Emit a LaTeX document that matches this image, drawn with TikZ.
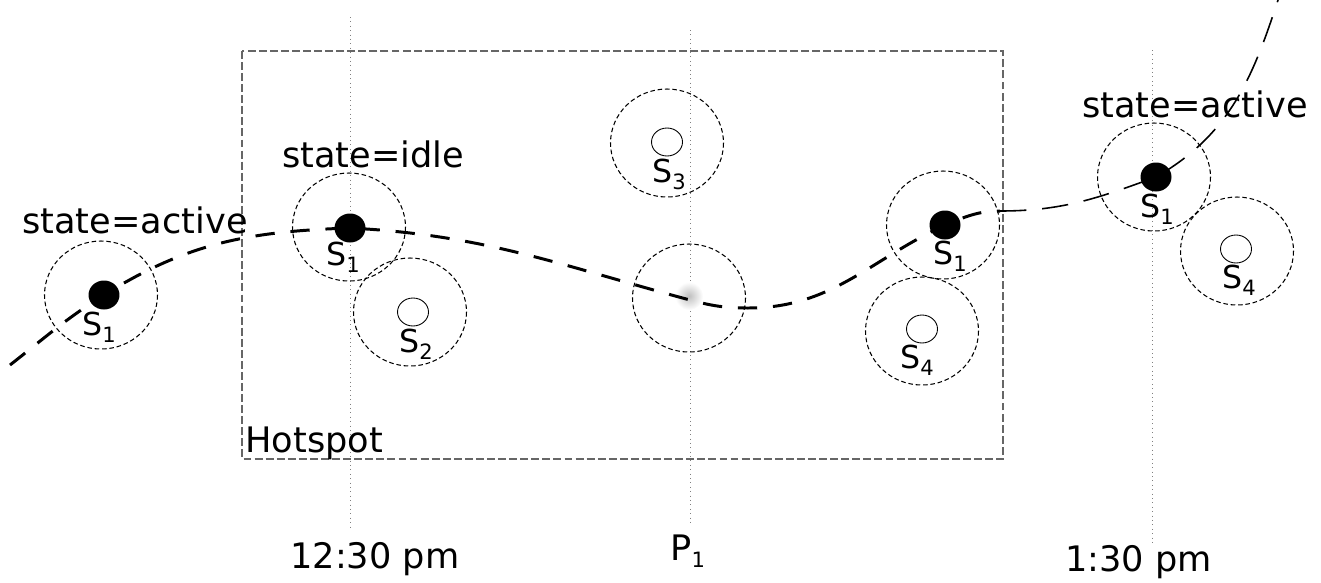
\documentclass[tikz,border=0pt]{standalone}
\usepackage{fontspec}
\setmainfont{DejaVu Sans}
\usetikzlibrary{shapes.geometric}
\newcommand{\subidx}[1]{\raisebox{-4pt}{\fontsize{12}{12}\selectfont #1}}

\begin{document}
\begin{tikzpicture}[x=0.02cm, y=-0.02cm,
    zone/.style={draw, dash pattern=on 2.6pt off 1.6pt, line width=0.6pt},
    timeline/.style={draw=gray, dotted, line width=0.5pt},
    dot/.style={ellipse, fill=black, inner sep=0pt, minimum width=0.62cm, minimum height=0.58cm},
    sensor/.style={ellipse, draw, fill=white, line width=0.5pt, inner sep=0pt, minimum width=0.62cm, minimum height=0.56cm},
    lbl/.style={inner sep=0pt, anchor=base west, font=\fontsize{20}{24}\selectfont},
    sname/.style={inner sep=0pt, anchor=base west, font=\fontsize{18}{22}\selectfont},
    track/.style={line width=1.7pt, dash pattern=on 11pt off 9pt},
    thintrack/.style={line width=0.9pt, dash pattern=on 15pt off 9pt}]
    \useasboundingbox (0,0) rectangle (1321,582);

    % Draw the time lines
    \draw[timeline] (350,17) -- (350,530);
    \draw[timeline] (690,30) -- (690,525);
    \draw[timeline] (1152,50) -- (1152,544);

    % Draw the hotspot
    \draw[gray!80!black, dash pattern=on 4.5pt off 1.8pt, line width=0.6pt] (242,51) rectangle (1003,459);
    \node[lbl] (hot) at (245,452) {Hotspot};

    % Faded position at P1
    \shade[inner color=gray!50, outer color=white] (689,296) circle (14);

    % Draw the ranges
    \draw[zone] (101,295) ellipse (56.5 and 54);
    \draw[zone] (349,227) ellipse (56.5 and 54);
    \draw[zone] (410,312) ellipse (56.5 and 54);
    \draw[zone] (667,143) ellipse (56.5 and 54);
    \draw[zone] (689,298) ellipse (56.5 and 54);
    \draw[zone] (943,225) ellipse (56.5 and 54);
    \draw[zone] (922,331) ellipse (56.5 and 54);
    \draw[zone] (1154,177) ellipse (56.5 and 54);
    \draw[zone] (1237,251) ellipse (56.5 and 54);

    % Draw the sensors
    \node[dot] (d1) at (104,295) {};
    \node[dot] (d2) at (350,228) {};
    \node[dot] (d3) at (945,225) {};
    \node[dot] (d4) at (1156,177) {};
    \node[sensor] (s2) at (413,312) {};
    \node[sensor] (s3) at (667,142) {};
    \node[sensor] (s4) at (922,329) {};
    \node[sensor] (s4b) at (1236,249) {};

    % Draw the trajectory
    \coordinate (tstart) at (10,365);
    \coordinate (tpass) at (690,300);
    \coordinate (tlow) at (748,308);
    \coordinate (tmid) at (1000,211);
    \coordinate (tend) at (1278,0);
    \draw[track] (tstart) to[out=38,in=212] (d1.center) to[out=32,in=182] (d2.center)
        to[out=-3,in=165] (tpass) to[out=-15,in=180] (tlow) to[out=0,in=205] (d3.center)
        to[out=22,in=180] (tmid);
    \draw[thintrack] (tmid) to[out=0,in=200] (d4.center) to[out=30,in=-108] (tend);

    % Label the sensors
    \node[sname] (n1) at (82,335) {S\subidx{1}};
    \node[sname] (n2) at (326,265) {S\subidx{1}};
    \node[sname] (n3) at (399,352) {S\subidx{2}};
    \node[sname] (n4) at (652,182) {S\subidx{3}};
    \node[sname] (n5) at (933,264) {S\subidx{1}};
    \node[sname] (n6) at (900,368) {S\subidx{4}};
    \node[sname] (n7) at (1140,217) {S\subidx{1}};
    \node[sname] (n8) at (1222,288) {S\subidx{4}};

    % Label the states and times
    \node[lbl] (sta) at (22,233) {state=active};
    \node[lbl] (sti) at (282,167) {state=idle};
    \node[lbl] (stb) at (1082,117) {state=active};
    \node[lbl] (t1) at (290,568) {12:30 pm};
    \node[lbl] (p1) at (670,560) {P\subidx{1}};
    \node[lbl] (t2) at (1065,571) {1:30 pm};
\end{tikzpicture}
\end{document}
